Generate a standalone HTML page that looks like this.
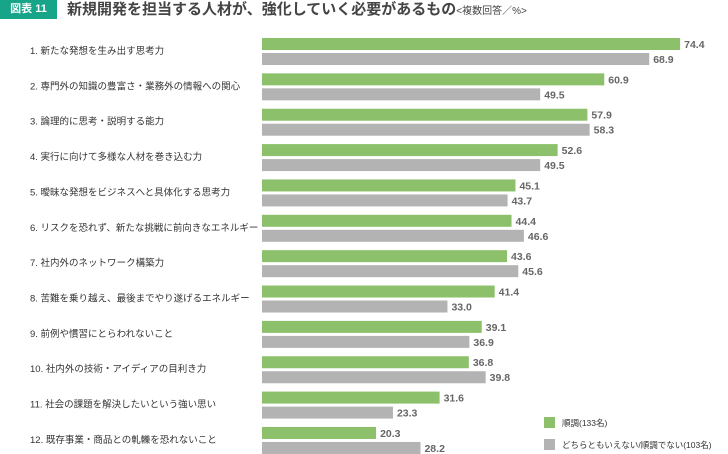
<!DOCTYPE html>
<html><head><meta charset="utf-8"><style>
body{margin:0;width:728px;height:454px;background:#fff;font-family:"Liberation Sans","Noto Sans CJK JP",sans-serif;position:relative;overflow:hidden}
.badge{position:absolute;left:0;top:0;width:57px;height:19px;background:#17a589;color:#fff;font-size:11px;font-weight:bold;line-height:19px;text-align:center}
.title{position:absolute;left:67px;top:0;font-size:15px;font-weight:bold;color:#444;line-height:20px;white-space:nowrap}
.title small{font-size:10px;font-weight:normal}
</style></head><body>
<div class="badge">図表 11</div>
<div class="title">新規開発を担当する人材が、強化していく必要があるもの<small>&lt;複数回答／%&gt;</small></div>
<svg id="chart" width="728" height="454" style="position:absolute;left:0;top:0"></svg>
<script>
const categories=["1. 新たな発想を生み出す思考力","2. 専門外の知識の豊富さ・業務外の情報への関心","3. 論理的に思考・説明する能力","4. 実行に向けて多様な人材を巻き込む力","5. 曖昧な発想をビジネスへと具体化する思考力","6. リスクを恐れず、新たな挑戦に前向きなエネルギー","7. 社内外のネットワーク構築力","8. 苦難を乗り越え、最後までやり遂げるエネルギー","9. 前例や慣習にとらわれないこと","10. 社内外の技術・アイディアの目利き力","11. 社会の課題を解決したいという強い思い","12. 既存事業・商品との軋轢を恐れないこと"];
const smooth=[74.4,60.9,57.9,52.6,45.1,44.4,43.6,41.4,39.1,36.8,31.6,20.3];
const notSmooth=[68.9,49.5,58.3,49.5,43.7,46.6,45.6,33.0,36.9,39.8,23.3,28.2];
const seriesNames=["順調(133名)","どちらともいえない/順調でない(103名)"];
const NS="http://www.w3.org/2000/svg";
const svg=document.getElementById('chart');
const x0=262, scale=5.62, y0=38, step=35.36, bh=12;
const xs=v=>x0+v*scale;
function mk(t,a){const e=document.createElementNS(NS,t);for(const k in a)e.setAttribute(k,a[k]);svg.appendChild(e);return e;}
categories.forEach((c,i)=>{
  const y=y0+i*step;
  const t=mk('text',{x:30,y:y+16,'font-size':'9.5','fill':'#333'});
  t.textContent=c;
  
  
  [[smooth,'#8cc06a',0],[notSmooth,'#b3b3b3',15]].forEach(([arr,col,off],s)=>{
    const r=mk('rect',{x:x0,y:y+off,width:xs(arr[i])-x0,height:bh,fill:col});
    
    
    const v=mk('text',{x:xs(arr[i])+4,y:y+off+10,'font-size':'10.5','font-weight':'bold','fill':'#666'});
    v.textContent=arr[i].toFixed(1);
    
    
  });
});
[['#8cc06a',417],['#b3b3b3',439]].forEach(([col,y],i)=>{
  const r=mk('rect',{x:544,y:y,width:11,height:11,fill:col});
  
  
  const t=mk('text',{x:562,y:y+9,'font-size':'8.5','fill':'#333'});
  t.textContent=seriesNames[i];
  
  
});
</script>
</body></html>
